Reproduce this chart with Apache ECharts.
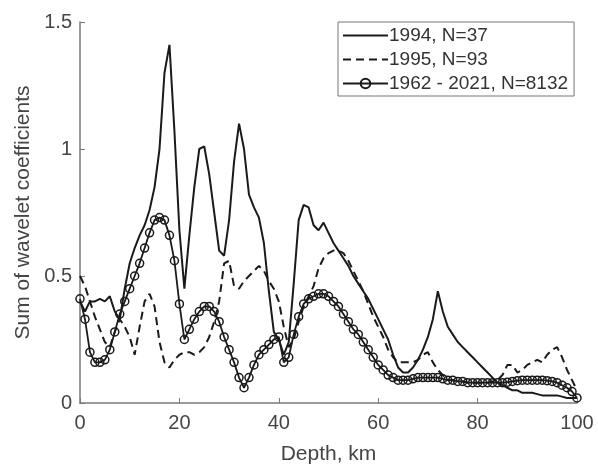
<!DOCTYPE html>
<html>
<head>
<meta charset="utf-8">
<script src="https://cdn.jsdelivr.net/npm/echarts@6/dist/echarts.min.js"></script>
<style>
  html, body { margin: 0; padding: 0; background: #fff; }
  #chart { width: 598px; height: 471px; }
</style>
</head>
<body>
<div id="chart"></div>
<script>
// depth, km (0..100, step 1)
const depth = Array.from({ length: 101 }, (_, i) => i);

// 1994, N=37
const sum1994 = [
  0.40, 0.36, 0.40, 0.40, 0.41, 0.40, 0.42, 0.36, 0.33, 0.45,
  0.55, 0.61, 0.66, 0.70, 0.76, 0.85, 1.00, 1.30, 1.41, 1.07,
  0.68, 0.45, 0.66, 0.85, 1.00, 1.01, 0.90, 0.75, 0.60, 0.58,
  0.72, 0.95, 1.10, 1.00, 0.82, 0.77, 0.73, 0.63, 0.44, 0.28,
  0.25, 0.19, 0.24, 0.47, 0.72, 0.78, 0.77, 0.70, 0.68, 0.71,
  0.67, 0.63, 0.60, 0.57, 0.54, 0.50, 0.47, 0.44, 0.41, 0.37,
  0.33, 0.29, 0.25, 0.19, 0.14, 0.12, 0.12, 0.14, 0.17, 0.21,
  0.26, 0.33, 0.44, 0.36, 0.30, 0.27, 0.24, 0.22, 0.20, 0.18,
  0.16, 0.14, 0.12, 0.10, 0.08, 0.07, 0.06, 0.05, 0.05, 0.04,
  0.04, 0.04, 0.035, 0.03, 0.03, 0.03, 0.03, 0.025, 0.02, 0.02,
  0.02
];

// 1995, N=93
const sum1995 = [
  0.50, 0.46, 0.40, 0.34, 0.29, 0.24, 0.22, 0.28, 0.33, 0.30,
  0.26, 0.19, 0.30, 0.40, 0.43, 0.38, 0.24, 0.16, 0.14, 0.17,
  0.19, 0.20, 0.20, 0.19, 0.20, 0.22, 0.26, 0.32, 0.40, 0.55,
  0.56, 0.46, 0.45, 0.48, 0.50, 0.52, 0.54, 0.52, 0.48, 0.45,
  0.40, 0.30, 0.22, 0.25, 0.32, 0.38, 0.42, 0.46, 0.53, 0.57,
  0.59, 0.60, 0.60, 0.59, 0.56, 0.52, 0.48, 0.44, 0.39, 0.34,
  0.30, 0.26, 0.21, 0.18, 0.16, 0.16, 0.16, 0.16, 0.17, 0.19,
  0.20, 0.16, 0.13, 0.11, 0.09, 0.09, 0.085, 0.085, 0.08, 0.08,
  0.08, 0.08, 0.08, 0.085, 0.09, 0.11, 0.15, 0.15, 0.12, 0.13,
  0.15, 0.16, 0.17, 0.16, 0.19, 0.21, 0.22, 0.18, 0.13, 0.09,
  0.05
];

// 1962 - 2021, N=8132
const sumAll = [
  0.41, 0.33, 0.20, 0.16, 0.16, 0.17, 0.21, 0.28, 0.35, 0.40,
  0.45, 0.50, 0.55, 0.61, 0.67, 0.72, 0.73, 0.72, 0.66, 0.56,
  0.39, 0.25, 0.29, 0.33, 0.36, 0.38, 0.38, 0.36, 0.32, 0.26,
  0.21, 0.16, 0.10, 0.06, 0.10, 0.15, 0.19, 0.21, 0.23, 0.25,
  0.26, 0.16, 0.18, 0.27, 0.34, 0.39, 0.41, 0.42, 0.43, 0.43,
  0.42, 0.40, 0.38, 0.35, 0.32, 0.29, 0.27, 0.24, 0.21, 0.18,
  0.15, 0.13, 0.11, 0.10, 0.09, 0.09, 0.09, 0.095, 0.10, 0.10,
  0.10, 0.10, 0.10, 0.095, 0.09, 0.09, 0.085, 0.085, 0.08, 0.08,
  0.08, 0.08, 0.08, 0.08, 0.08, 0.08, 0.082, 0.085, 0.088, 0.09,
  0.09, 0.09, 0.09, 0.09, 0.088, 0.085, 0.08, 0.07, 0.06, 0.045,
  0.02
];

const seriesNames = ["1994, N=37", "1995, N=93", "1962 - 2021, N=8132"];

const pairs = (ys) => depth.map((d, i) => [d, ys[i]]);

const ink = "#1a1a1a";
const axisGray = "#7a7a7a";
const textGray = "#454545";
const font = "Liberation Sans";

const chart = echarts.init(document.getElementById("chart"));

chart.setOption({
  animation: false,
  backgroundColor: "#fff",
  grid: { left: 80, right: 21, top: 22, bottom: 68 },
  legend: {
    orient: "vertical",
    left: 338,
    top: 22,
    data: [
      { name: seriesNames[0], itemStyle: { opacity: 0 } },
      { name: seriesNames[1], itemStyle: { opacity: 0 } },
      { name: seriesNames[2] },
    ],
    itemWidth: 45,
    itemHeight: 12,
    itemGap: 5,
    padding: [4, 6, 3, 4],
    borderColor: "#777",
    borderWidth: 1,
    backgroundColor: "#fff",
    textStyle: { fontFamily: font, fontSize: 19, color: "#333", padding: [0, 0, 0, -4] },
  },
  xAxis: {
    type: "value",
    min: 0,
    max: 100,
    interval: 20,
    name: "Depth, km",
    nameLocation: "middle",
    nameGap: 41,
    nameTextStyle: { fontFamily: font, fontSize: 21, color: textGray },
    axisLine: { lineStyle: { color: axisGray, width: 1.5 } },
    axisTick: { inside: true, length: 5, lineStyle: { color: axisGray } },
    axisLabel: { fontFamily: font, fontSize: 20, color: textGray, margin: 10 },
    splitLine: { show: false },
  },
  yAxis: {
    type: "value",
    min: 0,
    max: 1.5,
    interval: 0.5,
    name: "Sum of wavelet coefficients",
    nameLocation: "middle",
    nameGap: 44,
    nameTextStyle: { fontFamily: font, fontSize: 21, color: textGray },
    axisLine: { show: true, lineStyle: { color: axisGray, width: 1.5 } },
    axisTick: { show: true, inside: true, length: 5, lineStyle: { color: axisGray } },
    axisLabel: { fontFamily: font, fontSize: 20, color: textGray, margin: 8 },
    splitLine: { show: false },
  },
  series: [
    {
      name: seriesNames[0],
      type: "line",
      data: pairs(sum1994),
      symbol: "none",
      lineStyle: { color: ink, width: 2 },
      itemStyle: { color: ink },
    },
    {
      name: seriesNames[1],
      type: "line",
      data: pairs(sum1995),
      symbol: "none",
      lineStyle: { color: ink, width: 2, type: [8, 5] },
      itemStyle: { color: ink },
    },
    {
      name: seriesNames[2],
      type: "line",
      data: pairs(sumAll),
      symbol: "circle",
      symbolSize: 8,
      showAllSymbol: true,
      lineStyle: { color: ink, width: 1.8 },
      itemStyle: { color: "rgba(0,0,0,0)", borderColor: ink, borderWidth: 1.5 },
    },
  ],
});
</script>
</body>
</html>
